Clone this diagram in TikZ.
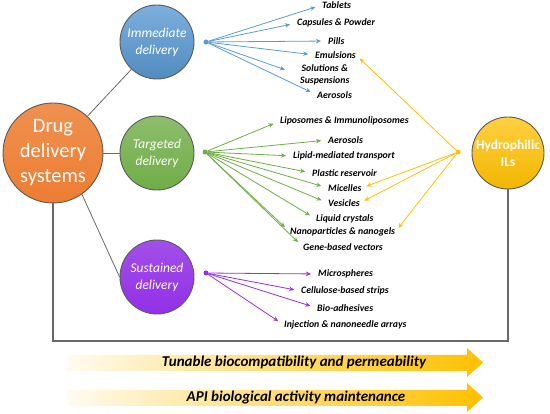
\documentclass[tikz,border=0pt]{standalone}
\usepackage{fontspec}
\setmainfont{Carlito}
\usetikzlibrary{arrows.meta,positioning,calc}
\definecolor{ddsorange}{RGB}{237,125,49}
\definecolor{immblue}{RGB}{91,155,213}
\definecolor{targreen}{RGB}{112,173,71}
\definecolor{sustpurple}{RGB}{146,48,230}
\definecolor{ilyellow}{RGB}{255,192,0}
\definecolor{rimgray}{RGB}{90,90,90}
\definecolor{linkgray}{RGB}{105,105,105}

\tikzset{
  bubble/.style={circle,draw=rimgray,line width=0.9pt,inner sep=0pt,
                 minimum size=74pt,text=white,align=center},
  item/.style={anchor=west,inner sep=0pt,align=center,
               font=\bfseries\itshape\fontsize{9.8}{11.5}\selectfont},
  feed/.style={-{Stealth[length=5pt,width=4.5pt]},line width=0.8pt,
               shorten >=7pt},
  hubdot/.style={circle,inner sep=0pt,minimum size=5pt},
  link/.style={draw=linkgray,line width=0.8pt},
  bannertext/.style={font=\bfseries\itshape\fontsize{15}{17}\selectfont}
}

\begin{document}
\begin{tikzpicture}[x=1pt,y=-1pt]
\useasboundingbox (0,0) rectangle (550,414);

% ---------------- circles ----------------
\node[bubble,minimum size=100pt,top color=ddsorange!85!white,
      bottom color=ddsorange,font=\fontsize{20.5}{25}\selectfont]
     (dds) at (53,153) {Drug\\delivery\\systems};
\node[bubble,top color=immblue!80!white,bottom color=immblue!90!black,
      font=\itshape\fontsize{13.5}{17}\selectfont]
     (imm) at (157,42) {Immediate\\delivery};
\node[bubble,top color=targreen!80!white,bottom color=targreen,
      font=\itshape\fontsize{13.5}{17}\selectfont]
     (tar) at (157,153) {Targeted\\delivery};
\node[bubble,top color=sustpurple!85!white,bottom color=sustpurple,
      font=\itshape\fontsize{13.5}{17}\selectfont]
     (sus) at (157,277) {Sustained\\delivery};
\node[bubble,minimum size=72pt,top color=ilyellow!75!white,
      bottom color=ilyellow!95!black,font=\bfseries\fontsize{13.5}{17}\selectfont]
     (hil) at (508,153) {Hydrophilic\\ILs};

% links to the three families
\draw[link] (dds) -- (imm);
\draw[link] (dds.east) -- (tar.west);
\draw[link] (dds.-55) -- (sus.west);

% bracket under everything
\coordinate (base) at (0,341);
\draw[link,line width=1.8pt] (dds.south) -- (dds.south |- base) -| (hil.south);

% ---------------- hubs ----------------
\node[hubdot,fill=immblue] (immhub) at (206,42) {};
\node[hubdot,fill=targreen] (tarhub) at (205,152) {};
\node[hubdot,fill=sustpurple] (sushub) at (206,273) {};
\node[hubdot,fill=ilyellow] (hilhub) at (458,152) {};

% ---------------- immediate delivery ----------------
\foreach \n/\x/\y/\t in {tab/322/5/Tablets,
                         cap/297/23/{Capsules \& Powder},
                         pil/328/41/Pills,
                         emu/315/55/Emulsions,
                         aer/317/95/Aerosols}{
  \node[item] (imm-\n) at (\x,\y) {\t};
  \draw[feed,immblue] (immhub) -- (imm-\n.west);
}
\node[item] (imm-sol) at (300,75) {Solutions \&\\Suspensions};
\draw[feed,immblue,shorten >=16pt] (immhub) -- (imm-sol.west);

% ---------------- targeted delivery ----------------
\foreach \n/\x/\y/\t in {lip/280/121/{Liposomes \& Immunoliposomes},
                         aer/328/140/Aerosols,
                         lmt/293/156/Lipid-mediated transport,
                         pla/312/173/Plastic reservoir,
                         mic/328/188/Micelles,
                         ves/328/203/Vesicles,
                         liq/316/219/Liquid crystals,
                         nan/290/232/{Nanoparticles \& nanogels},
                         gen/303/247/Gene-based vectors}{
  \node[item] (tar-\n) at (\x,\y) {\t};
  \draw[feed,targreen] (tarhub) -- (tar-\n.west);
}

% ---------------- sustained delivery ----------------
\foreach \n/\x/\y/\t in {mic/318/274/Microspheres,
                         cel/301/291/Cellulose-based strips,
                         bio/317/308/Bio-adhesives,
                         inj/284/325/{Injection \& nanoneedle arrays}}{
  \node[item] (sus-\n) at (\x,\y) {\t};
  \draw[feed,sustpurple] (sushub) -- (sus-\n.west);
}

% ---------------- hydrophilic ILs ----------------
\foreach \m in {imm-emu,tar-mic,tar-ves,tar-nan}{
  \draw[feed,ilyellow,shorten >=5pt] (hilhub) -- (\m.east);
}

% ---------------- banners ----------------
\shade[left color=ilyellow!6!white,middle color=ilyellow,right color=ilyellow]
  (67,355) -- (467,355) -- (467,348) -- (483,362.5) -- (467,377)
  -- (467,371) -- (67,371) -- cycle;
\node[bannertext] (tune) at (294,362.5)
  {Tunable biocompatibility and permeability};
\shade[left color=ilyellow!6!white,middle color=ilyellow,right color=ilyellow]
  (67,390) -- (467,390) -- (467,383) -- (483,397.5) -- (467,412)
  -- (467,406) -- (67,406) -- cycle;
\node[bannertext] (api) at (296,397.5)
  {API biological activity maintenance};

\end{tikzpicture}
\end{document}
